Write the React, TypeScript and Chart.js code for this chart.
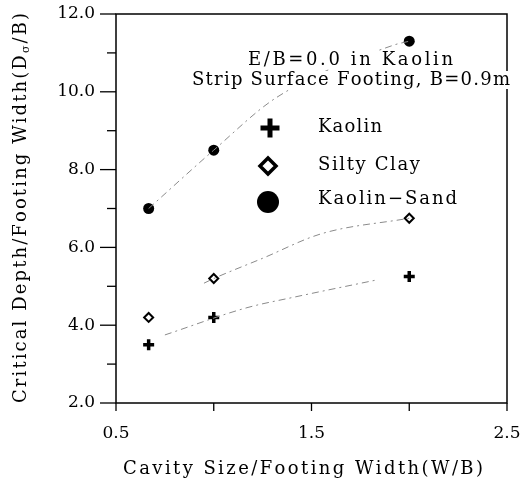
import React, { useEffect, useRef } from "react";
import { Chart, registerables } from "chart.js";

Chart.register(...registerables);

// Measured data
const cavityRatio = [0.667, 1.0, 2.0];
const kaolinDepth = [3.5, 4.2, 5.25];
const siltyClayDepth = [4.2, 5.2, 6.75];
const kaolinSandDepth = [7.0, 8.5, 11.3];

// Trend curves (as drawn in the figure)
const kaolinTrendX = [0.75, 1.17, 1.41, 1.83];
const kaolinTrendY = [3.75, 4.45, 4.72, 5.16];
const siltyTrendX = [0.95, 1.0, 1.25, 1.55, 2.0];
const siltyTrendY = [5.08, 5.2, 5.72, 6.35, 6.75];
const sandTrendX = [0.667, 1.0, 1.32, 1.92, 2.0];
const sandTrendY = [7.0, 8.5, 9.85, 11.2, 11.3];

const xTicks = [0.5, 1.0, 1.5, 2.0, 2.5];
const xTickLabels = ["0.5", "", "1.5", "", "2.5"];
const yTicks = [2, 3, 4, 5, 6, 7, 8, 9, 10, 11, 12];
const yTickLabels = ["2.0", "", "4.0", "", "6.0", "", "8.0", "", "10.0", "", "12.0"];

const seriesNames = ["Kaolin", "Silty Clay", "Kaolin\u2212Sand"];
const annotationLines = ["E/B=0.0 in Kaolin", "Strip Surface Footing, B=0.9m"];
const xTitle = "Cavity Size/Footing Width(W/B)";
const yTitleParts = ["Critical Depth/Footing Width(D", "\u03c3", "/B)"];

const FONT = "'DejaVu Serif', serif";
const BIG = `18px ${FONT}`;
const SMALL = `11px ${FONT}`;

const zip = (xs: number[], ys: number[]) => xs.map((x, i) => ({ x, y: ys[i] }));

type Seg = { t: string; font: string; dy: number };

// Draw text segments spread so the whole run spans `width`, starting at x.
function drawSpread(ctx: CanvasRenderingContext2D, segs: Seg[], x: number, y: number, width: number) {
  let natural = 0;
  let count = 0;
  segs.forEach((s) => {
    ctx.font = s.font;
    for (const ch of s.t) {
      natural += ctx.measureText(ch).width;
      count++;
    }
  });
  const gap = count > 1 ? (width - natural) / (count - 1) : 0;
  let cx = x;
  ctx.textAlign = "left";
  segs.forEach((s) => {
    ctx.font = s.font;
    for (const ch of s.t) {
      ctx.fillText(ch, cx, y + s.dy);
      cx += ctx.measureText(ch).width + gap;
    }
  });
}

function drawPlus(ctx: CanvasRenderingContext2D, x: number, y: number, r: number, w: number) {
  ctx.save();
  ctx.strokeStyle = "#000";
  ctx.lineWidth = w;
  ctx.beginPath();
  ctx.moveTo(x - r, y);
  ctx.lineTo(x + r, y);
  ctx.moveTo(x, y - r);
  ctx.lineTo(x, y + r);
  ctx.stroke();
  ctx.restore();
}
function drawDiamond(ctx: CanvasRenderingContext2D, x: number, y: number, r: number, w: number) {
  ctx.save();
  ctx.strokeStyle = "#000";
  ctx.fillStyle = "#fff";
  ctx.lineWidth = w;
  ctx.beginPath();
  ctx.moveTo(x, y - r);
  ctx.lineTo(x + r, y);
  ctx.lineTo(x, y + r);
  ctx.lineTo(x - r, y);
  ctx.closePath();
  ctx.fill();
  ctx.stroke();
  ctx.restore();
}
function drawDot(ctx: CanvasRenderingContext2D, x: number, y: number, r: number) {
  ctx.save();
  ctx.fillStyle = "#000";
  ctx.beginPath();
  ctx.arc(x, y, r, 0, Math.PI * 2);
  ctx.fill();
  ctx.restore();
}

const decorPlugin = {
  id: "decor",
  afterDatasetsDraw(chart: any) {
    const ctx: CanvasRenderingContext2D = chart.ctx;
    const { left, right, top, bottom } = chart.chartArea;
    const xs = chart.scales.x;
    const ys = chart.scales.y;
    ctx.save();
    // frame
    ctx.strokeStyle = "#000";
    ctx.lineWidth = 1.5;
    ctx.strokeRect(left, top, right - left, bottom - top);
    // x ticks
    ctx.lineWidth = 1.3;
    xTicks.forEach((v) => {
      const px = xs.getPixelForValue(v);
      ctx.beginPath();
      ctx.moveTo(px, bottom);
      ctx.lineTo(px, bottom + 8);
      ctx.stroke();
    });
    yTicks.forEach((v, i) => {
      const py = ys.getPixelForValue(v);
      const len = yTickLabels[i] ? 16 : 9;
      ctx.beginPath();
      ctx.moveTo(left - len, py);
      ctx.lineTo(left, py);
      ctx.stroke();
    });

    ctx.textBaseline = "middle";
    ctx.fillStyle = "#000";

    // annotation text with white backing
    const ann = [
      { x: 248, y: 60, w: 205 },
      { x: 192, y: 80, w: 318 },
    ];
    annotationLines.forEach((t, i) => {
      const a = ann[i];
      ctx.fillStyle = "#fff";
      ctx.fillRect(a.x - 2, a.y - 9, a.w + 4, 18);
      ctx.fillStyle = "#000";
      drawSpread(ctx, [{ t, font: BIG, dy: 0 }], a.x, a.y, a.w);
    });

    // legend
    const legY = [127, 165, 199];
    const legW = [64, 102, 139];
    drawPlus(ctx, 270, 128, 9.5, 5);
    drawDiamond(ctx, 268, 166, 8, 3.5);
    drawDot(ctx, 268, 202, 11);
    ctx.fillStyle = "#000";
    seriesNames.forEach((n, i) => {
      drawSpread(ctx, [{ t: n, font: BIG, dy: 0 }], 318, legY[i], legW[i]);
    });

    // x title
    drawSpread(ctx, [{ t: xTitle, font: BIG, dy: 0 }], 123, 469, 360);

    // y title (rotated with subscript)
    ctx.translate(21, 403);
    ctx.rotate(-Math.PI / 2);
    drawSpread(
      ctx,
      [
        { t: yTitleParts[0], font: BIG, dy: 0 },
        { t: yTitleParts[1], font: SMALL, dy: 5 },
        { t: yTitleParts[2], font: BIG, dy: 0 },
      ],
      0,
      0,
      390
    );
    ctx.restore();
  },
};

export default function App() {
  const ref = useRef<HTMLCanvasElement>(null);
  useEffect(() => {
    if (!ref.current) return;
    const trendStyle = {
      borderColor: "#8a8a8a",
      borderWidth: 1,
      borderDash: [7, 4, 2, 4],
      pointRadius: 0,
      showLine: true,
      fill: false,
      cubicInterpolationMode: "monotone",
    };
    const chart = new Chart(ref.current, {
      type: "scatter",
      data: {
        datasets: [
          { ...trendStyle, data: zip(kaolinTrendX, kaolinTrendY) },
          { ...trendStyle, data: zip(siltyTrendX, siltyTrendY) },
          { ...trendStyle, data: zip(sandTrendX, sandTrendY) },
          {
            label: seriesNames[0],
            data: zip(cavityRatio, kaolinDepth),
            pointStyle: "cross",
            radius: 5.5,
            borderWidth: 3.5,
            borderColor: "#000",
            backgroundColor: "#000",
          },
          {
            label: seriesNames[1],
            data: zip(cavityRatio, siltyClayDepth),
            pointStyle: "rectRot",
            radius: 4.5,
            borderWidth: 2,
            borderColor: "#000",
            backgroundColor: "#fff",
          },
          {
            label: seriesNames[2],
            data: zip(cavityRatio, kaolinSandDepth),
            pointStyle: "circle",
            radius: 5.5,
            borderWidth: 0,
            borderColor: "#000",
            backgroundColor: "#000",
          },
        ] as any,
      },
      options: {
        animation: false,
        responsive: false,
        layout: { padding: { top: 14, right: 14, left: 0, bottom: 0 } },
        plugins: { legend: { display: false }, tooltip: { enabled: false } },
        scales: {
          x: {
            type: "linear",
            min: 0.5,
            max: 2.5,
            afterBuildTicks: (s: any) => {
              s.ticks = xTicks.map((v) => ({ value: v }));
            },
            ticks: {
              autoSkip: false,
              maxRotation: 0,
              padding: 20,
              color: "#000",
              font: { family: FONT, size: 17 },
              callback: (v: any) => {
                const i = xTicks.indexOf(Number(v));
                return i >= 0 ? xTickLabels[i] : "";
              },
            },
            grid: { display: false, drawTicks: false },
            border: { display: false },
            afterFit: (s: any) => {
              s.height = 78;
              s.paddingLeft = 0;
              s.paddingRight = 0;
            },
          },
          y: {
            type: "linear",
            min: 2,
            max: 12,
            afterBuildTicks: (s: any) => {
              s.ticks = yTicks.map((v) => ({ value: v }));
            },
            ticks: {
              autoSkip: false,
              padding: 21,
              color: "#000",
              font: { family: FONT, size: 17 },
              callback: (v: any) => {
                const i = yTicks.indexOf(Number(v));
                return i >= 0 ? yTickLabels[i] : "";
              },
            },
            grid: { display: false, drawTicks: false },
            border: { display: false },
            afterFit: (s: any) => {
              s.width = 116;
              s.paddingTop = 0;
              s.paddingBottom = 0;
            },
          },
        },
      } as any,
      plugins: [decorPlugin],
    });
    return () => chart.destroy();
  }, []);
  return (
    <div style={{ position: "absolute", left: 0, top: 0, width: 521, height: 481, background: "#fff" }}>
      <canvas ref={ref} width={521} height={481} style={{ display: "block" }} />
    </div>
  );
}
